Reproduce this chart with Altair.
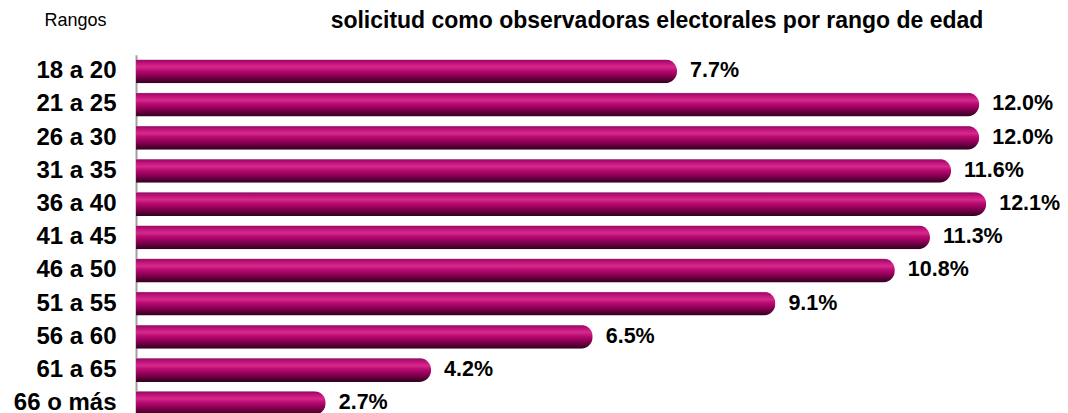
import altair as alt
import pandas as pd

titulo = ["solicitud como observadoras electorales por rango de edad"]
rangos = ["18 a 20", "21 a 25", "26 a 30", "31 a 35", "36 a 40", "41 a 45",
          "46 a 50", "51 a 55", "56 a 60", "61 a 65", "66 o más"]
valores = [7.7, 12.0, 12.0, 11.6, 12.1, 11.3, 10.8, 9.1, 6.5, 4.2, 2.7]
etiquetas = ["7.7%", "12.0%", "12.0%", "11.6%", "12.1%", "11.3%", "10.8%",
             "9.1%", "6.5%", "4.2%", "2.7%"]

df = pd.DataFrame({"rango": rangos, "valor": valores, "etiqueta": etiquetas})
df_t = pd.DataFrame({"t": titulo})

FONT = "Liberation Sans"

grad = alt.LinearGradient(
    gradient="linear",
    stops=[
        alt.GradientStop(color="#b7b7b7", offset=0.0),
        alt.GradientStop(color="#a0086a", offset=0.05),
        alt.GradientStop(color="#c4157c", offset=0.18),
        alt.GradientStop(color="#d42a8a", offset=0.32),
        alt.GradientStop(color="#b80a72", offset=0.48),
        alt.GradientStop(color="#920058", offset=0.66),
        alt.GradientStop(color="#5c0038", offset=0.84),
        alt.GradientStop(color="#330020", offset=1.0),
    ],
    x1=0, x2=0, y1=0, y2=1,
)

y_enc = alt.Y(
    "rango:N",
    sort=rangos,
    scale=alt.Scale(paddingInner=0.276, paddingOuter=0.138),
    axis=alt.Axis(
        title="Rangos",
        titleAngle=0,
        titleX=-92,
        titleY=-28.7,
        titleAlign="left",
        titleBaseline="alphabetic",
        titleFont=FONT,
        titleFontSize=18,
        titleFontWeight="normal",
        titleColor="#000000",
        labelFont=FONT,
        labelFontSize=24,
        labelFontWeight="bold",
        labelColor="#000000",
        labelPadding=20,
        ticks=False,
        domainColor="#a0a0a0",
        domainWidth=2,
        grid=False,
    ),
)

x_enc = alt.X("valor:Q", scale=alt.Scale(domain=[0, 13.15], nice=False, zero=True), axis=None)

bars = alt.Chart(df).mark_bar(color=grad, cornerRadiusEnd=12).encode(x=x_enc, y=y_enc)

labels = alt.Chart(df).mark_text(
    align="left", baseline="middle", dx=13, dy=0,
    font=FONT, fontSize=21.5, fontWeight="bold", color="#000000",
).encode(x=x_enc, y=alt.Y("rango:N", sort=rangos), text="etiqueta:N")

title = alt.Chart(df_t).mark_text(
    align="center", baseline="alphabetic",
    font=FONT, fontSize=23, fontWeight="bold", color="#000000",
).encode(x=alt.value(521), y=alt.value(-26.5), text="t:N")

chart = alt.layer(bars, labels, title).properties(
    width=924,
    height=365,
    autosize=alt.AutoSizeParams(type="none"),
    padding={"left": 128, "top": 46.7, "right": 0, "bottom": 0},
).configure_view(stroke=None)

chart.save("out.html", embed_options={"renderer": "svg", "actions": False})
